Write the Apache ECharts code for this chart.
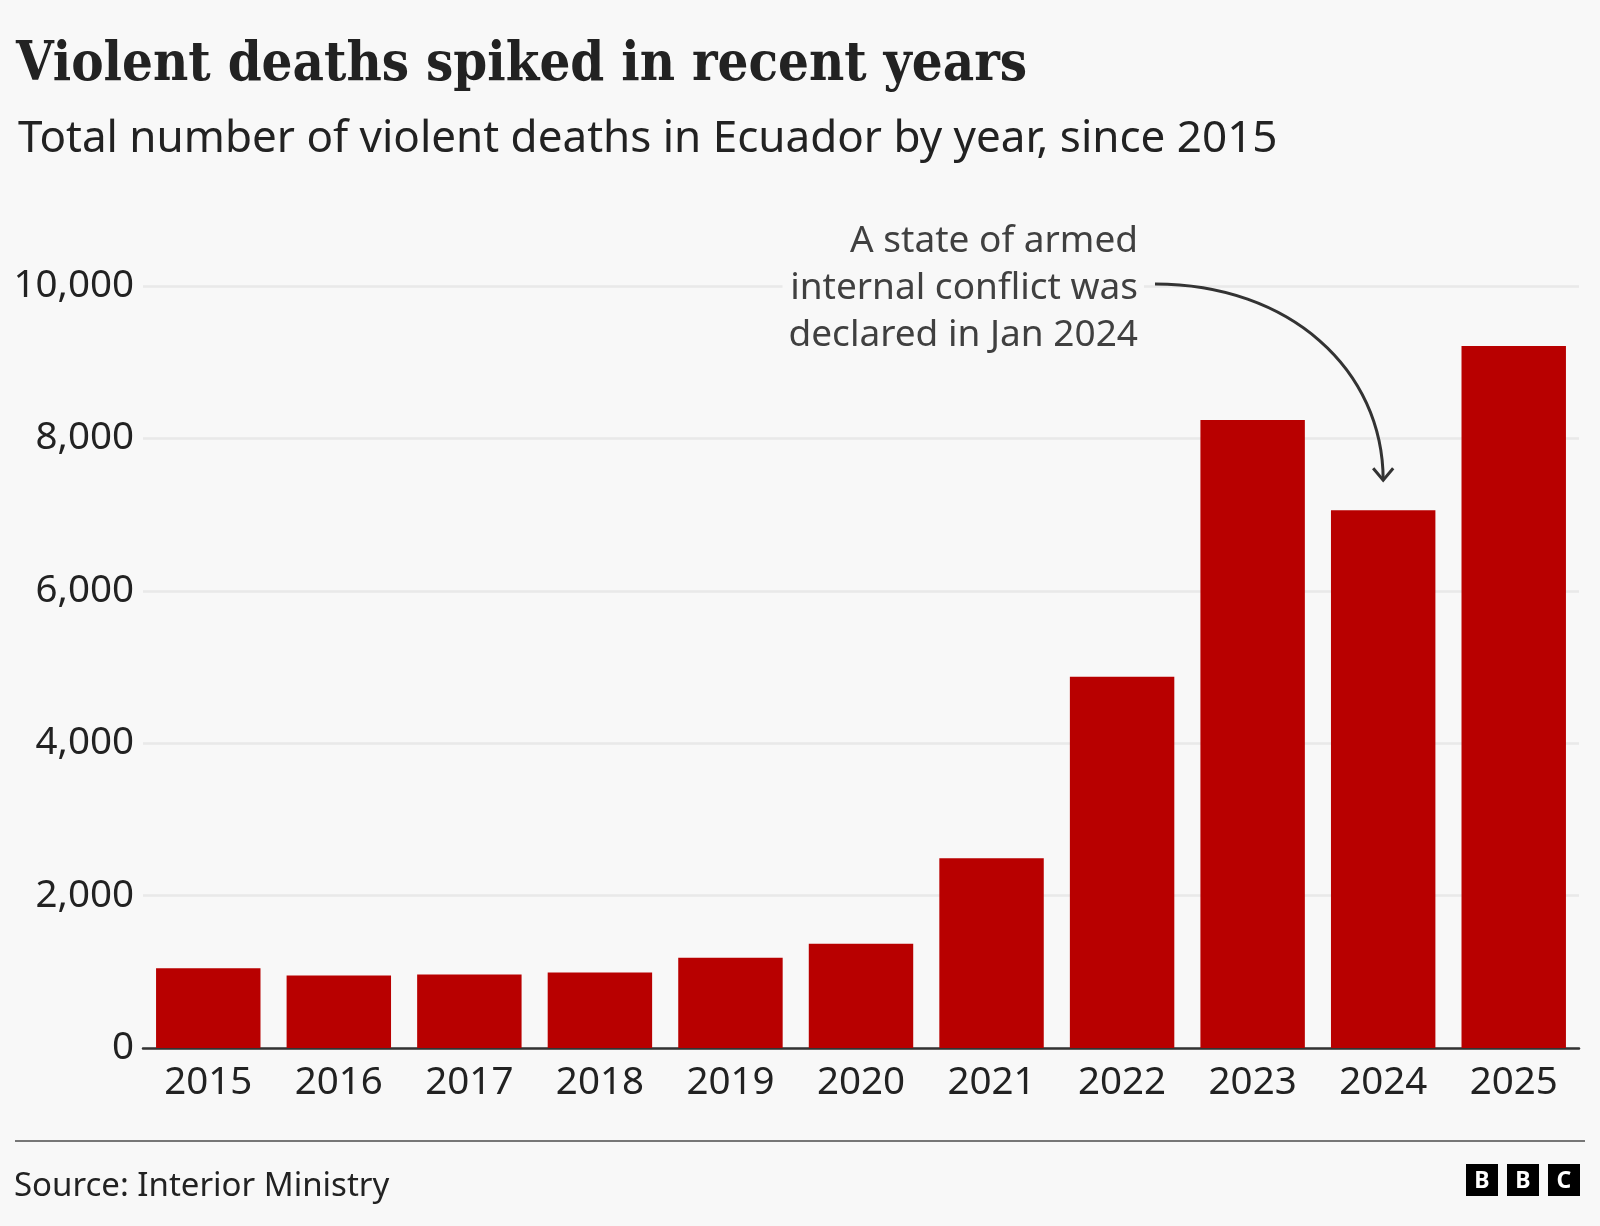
<!DOCTYPE html>
<html>
<head>
<meta charset="utf-8">
<script src="https://cdn.jsdelivr.net/npm/echarts@6/dist/echarts.min.js"></script>
<style>
  html, body { margin: 0; padding: 0; background: #f8f8f8; }
  #chart { width: 1600px; height: 1226px; }
</style>
</head>
<body>
<div id="chart"></div>
<script>
const YEARS = ['2015', '2016', '2017', '2018', '2019', '2020', '2021', '2022', '2023', '2024', '2025'];
const DEATHS = [1048, 952, 965, 991, 1184, 1367, 2490, 4872, 8240, 7058, 9212];
const Y_MAX = 10000;
const Y_STEP = 2000;

const ANNOTATION_YEAR = '2024';
const ANNOTATION_TEXT = 'A state of armed\ninternal conflict was\ndeclared in Jan 2024';

const SANS = '"Noto Sans", "Open Sans", sans-serif';
const INK = '#222222';

const chart = echarts.init(document.getElementById('chart'));

chart.setOption({
  backgroundColor: '#f8f8f8',
  animation: false,
  title: [
    {
      text: 'Violent deaths spiked in recent years',
      left: 11, top: 34,
      textStyle: {
        fontFamily: '"DejaVu Serif Condensed", "DejaVu Serif", serif',
        fontWeight: 'bold', fontSize: 54, color: INK,
      },
    },
    {
      text: 'Total number of violent deaths in Ecuador by year, since 2015',
      left: 13, top: 112,
      textStyle: { fontFamily: SANS, fontWeight: 'normal', fontSize: 44, color: INK },
    },
  ],
  grid: { left: 143, right: 21, top: 286, bottom: 178, containLabel: false },
  xAxis: {
    type: 'category',
    data: YEARS,
    axisLine: { lineStyle: { color: '#333', width: 2.5 } },
    axisTick: { alignWithLabel: true, length: 13, lineStyle: { color: '#333', width: 2.5 } },
    axisLabel: { margin: 16, fontFamily: SANS, fontSize: 38.5, color: INK },
  },
  yAxis: {
    type: 'value',
    min: 0, max: Y_MAX, interval: Y_STEP,
    axisLine: { show: false },
    axisTick: { show: false },
    axisLabel: {
      margin: 9, fontFamily: SANS, fontSize: 38.5, color: INK,
      formatter: v => v.toLocaleString('en-GB'),
    },
    splitLine: { lineStyle: { color: '#e9e9e9', width: 2.5 } },
  },
  series: [{
    type: 'bar',
    data: DEATHS,
    barCategoryGap: '20%',
    itemStyle: { color: '#b80000' },
    z: 2,
  }],
});

// Annotation + curved arrow, anchored on the 2024 bar through the axes.
const idx = YEARS.indexOf(ANNOTATION_YEAR);
const tip = chart.convertToPixel({ seriesIndex: 0 }, [idx, DEATHS[idx]]);
const tipX = tip[0];
const tipY = tip[1] - 30;
const textRight = 1144;
const textMidY = 288;
const startX = 1155;
const startY = 284;

chart.setOption({
  graphic: [
    {
      type: 'text',
      z: 10,
      style: {
        text: ANNOTATION_TEXT,
        x: textRight, y: textMidY,
        align: 'right', verticalAlign: 'middle',
        font: '37px "Noto Sans", sans-serif',
        lineHeight: 47,
        fill: '#404040',
        backgroundColor: '#f8f8f8',
        padding: [0, 6, 0, 6],
      },
    },
    {
      type: 'bezierCurve',
      z: 10,
      shape: {
        x1: startX, y1: startY,
        cpx1: startX + 135, cpy1: startY,
        cpx2: tipX, cpy2: startY + 86,
        x2: tipX, y2: tipY,
      },
      style: { stroke: '#333', lineWidth: 3, fill: null },
    },
    {
      type: 'polyline',
      z: 10,
      shape: { points: [[tipX - 10, tipY - 12], [tipX, tipY], [tipX + 10, tipY - 12]] },
      style: { stroke: '#333', lineWidth: 3, fill: null },
    },
    // footer rule
    {
      type: 'line',
      shape: { x1: 15, y1: 1141, x2: 1585, y2: 1141 },
      style: { stroke: '#777', lineWidth: 2 },
    },
    {
      type: 'text',
      style: {
        text: 'Source: Interior Ministry',
        x: 14, y: 1187,
        verticalAlign: 'middle',
        font: '33px "Noto Sans", sans-serif',
        fill: INK,
      },
    },
    // BBC blocks
    ...['B', 'B', 'C'].map((ch, i) => ({
      type: 'group',
      x: 1466 + i * 41, y: 1164,
      children: [
        { type: 'rect', shape: { x: 0, y: 0, width: 32, height: 32 }, style: { fill: '#000' } },
        {
          type: 'text',
          style: {
            text: ch, x: 16, y: 17, align: 'center', verticalAlign: 'middle',
            font: 'bold 23px "Noto Sans", sans-serif', fill: '#fff',
          },
        },
      ],
    })),
  ],
});
</script>
</body>
</html>
